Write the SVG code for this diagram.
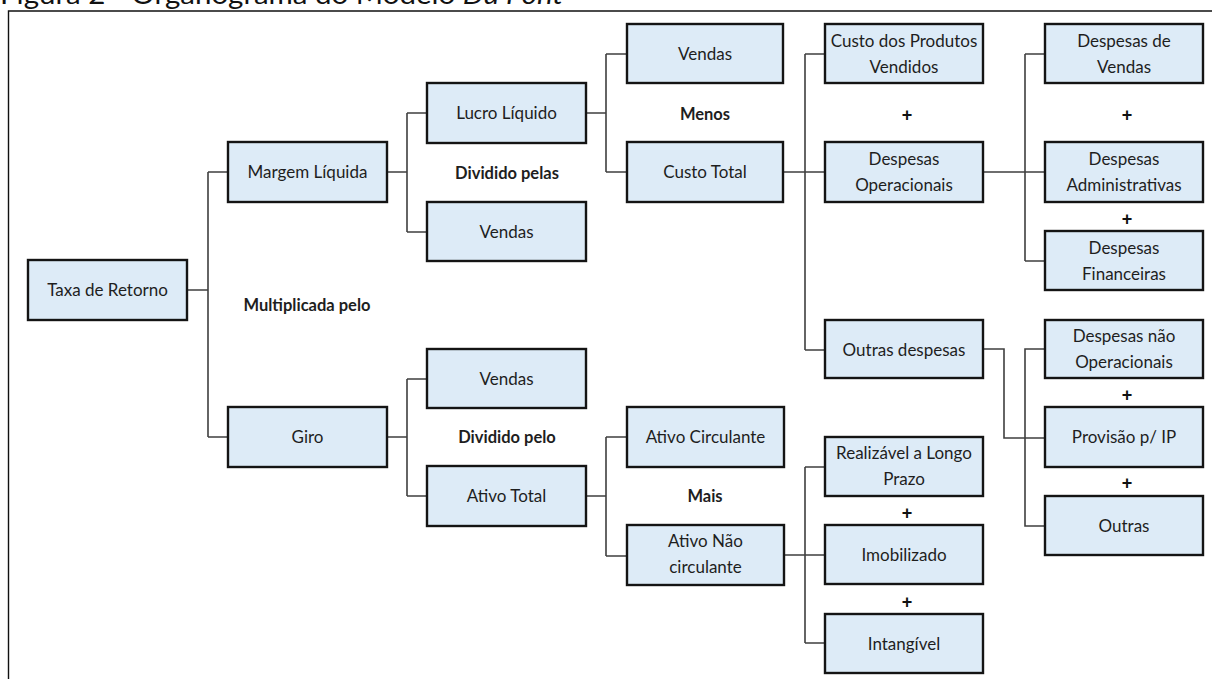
<svg xmlns="http://www.w3.org/2000/svg" width="1212" height="679" viewBox="0 0 1212 679">
<style>
.box{fill:#DDEBF7;stroke:#141414;stroke-width:2.4}
.t{font-family:Lato,"Open Sans","Liberation Sans",sans-serif;font-size:17px;fill:#1e1e1e;text-anchor:middle}
.b{font-family:Lato,"Open Sans","Liberation Sans",sans-serif;font-size:16.5px;font-weight:bold;fill:#1e1e1e;text-anchor:middle}
.p{font-family:"Liberation Sans",sans-serif;font-size:18px;font-weight:bold;fill:#111;text-anchor:middle}
.c{fill:none;stroke:#3f3f3f;stroke-width:1.6}
</style>
<rect width="1212" height="679" fill="#fff"/>
<text x="0" y="4" font-family="Lato,'Open Sans','Liberation Sans',sans-serif" font-size="26" fill="#111" textLength="563" lengthAdjust="spacingAndGlyphs">Figura 2 - Organograma do Modelo <tspan font-style="italic">Du Pont</tspan></text>
<path d="M8.5,690 V11 H1230" fill="none" stroke="#111" stroke-width="1.4"/>
<g id="connectors">
<path class="c" d="M187,290 H208 M208,172 V437 M208,172 H228 M208,437 H228"/>
<path class="c" d="M387,172 H407 M407,113 V232 M407,113 H427 M407,232 H427"/>
<path class="c" d="M586,113 H606 M606,54 V172 M606,54 H627 M606,172 H627"/>
<path class="c" d="M783,172 H825 M805,54 V350 M805,54 H825 M805,350 H825"/>
<path class="c" d="M983,172 H1045 M1025,54 V261 M1025,54 H1045 M1025,261 H1045"/>
<path class="c" d="M983,349 H1004 V438 H1045 M1045,349 H1025 V526 H1045"/>
<path class="c" d="M387,437 H407 M407,379 V496 M407,379 H427 M407,496 H427"/>
<path class="c" d="M586,496 H606 M606,437 V556 M606,437 H627 M606,556 H627"/>
<path class="c" d="M784,555 H825 M805,467 V643 M805,467 H825 M805,643 H825"/>
</g>
<g id="taxa"><rect class="box" x="28" y="260" width="159" height="60"/><text class="t" x="107.5" y="296">Taxa de Retorno</text></g>
<g id="margem"><rect class="box" x="228" y="142" width="159" height="60"/><text class="t" x="307.5" y="178">Margem Líquida</text></g>
<g id="giro"><rect class="box" x="228" y="407" width="159" height="60"/><text class="t" x="307.5" y="443">Giro</text></g>
<g id="lucro"><rect class="box" x="427" y="83" width="159" height="60"/><text class="t" x="506.5" y="119">Lucro Líquido</text></g>
<g id="vendas1"><rect class="box" x="427" y="202" width="159" height="59"/><text class="t" x="506.5" y="238">Vendas</text></g>
<g id="vendas2"><rect class="box" x="427" y="349" width="159" height="59"/><text class="t" x="506.5" y="385">Vendas</text></g>
<g id="ativototal"><rect class="box" x="427" y="466" width="159" height="60"/><text class="t" x="506.5" y="502">Ativo Total</text></g>
<g id="vendas3"><rect class="box" x="627" y="24" width="156" height="59"/><text class="t" x="705" y="60">Vendas</text></g>
<g id="custototal"><rect class="box" x="627" y="142" width="156" height="60"/><text class="t" x="705" y="178">Custo Total</text></g>
<g id="ativocirc"><rect class="box" x="627" y="407" width="157" height="60"/><text class="t" x="705.5" y="443">Ativo Circulante</text></g>
<g id="ativonc"><rect class="box" x="627" y="525" width="157" height="60"/><text class="t" x="705.5" y="547">Ativo Não</text><text class="t" x="705.5" y="573">circulante</text></g>
<g id="cpv"><rect class="box" x="825" y="24" width="158" height="59"/><text class="t" x="904" y="47">Custo dos Produtos</text><text class="t" x="904" y="73">Vendidos</text></g>
<g id="despop"><rect class="box" x="825" y="142" width="158" height="60"/><text class="t" x="904" y="165">Despesas</text><text class="t" x="904" y="191">Operacionais</text></g>
<g id="outrasdesp"><rect class="box" x="825" y="320" width="158" height="58"/><text class="t" x="904" y="356">Outras despesas</text></g>
<g id="realizavel"><rect class="box" x="825" y="437" width="158" height="59"/><text class="t" x="904" y="459">Realizável a Longo</text><text class="t" x="904" y="485">Prazo</text></g>
<g id="imobilizado"><rect class="box" x="825" y="525" width="158" height="59"/><text class="t" x="904" y="561">Imobilizado</text></g>
<g id="intangivel"><rect class="box" x="825" y="614" width="158" height="59"/><text class="t" x="904" y="650">Intangível</text></g>
<g id="despvendas"><rect class="box" x="1045" y="24" width="158" height="59"/><text class="t" x="1124" y="47">Despesas de</text><text class="t" x="1124" y="73">Vendas</text></g>
<g id="despadm"><rect class="box" x="1045" y="142" width="158" height="60"/><text class="t" x="1124" y="165">Despesas</text><text class="t" x="1124" y="191">Administrativas</text></g>
<g id="despfin"><rect class="box" x="1045" y="231" width="158" height="59"/><text class="t" x="1124" y="254">Despesas</text><text class="t" x="1124" y="280">Financeiras</text></g>
<g id="despnaoop"><rect class="box" x="1045" y="320" width="158" height="58"/><text class="t" x="1124" y="342">Despesas não</text><text class="t" x="1124" y="368">Operacionais</text></g>
<g id="provisao"><rect class="box" x="1045" y="407" width="158" height="60"/><text class="t" x="1124" y="443">Provisão p/ IP</text></g>
<g id="outras"><rect class="box" x="1045" y="496" width="158" height="59"/><text class="t" x="1124" y="532">Outras</text></g>
<g id="labels">
<text class="b" x="307" y="311">Multiplicada pelo</text>
<text class="b" x="507" y="179">Dividido pelas</text>
<text class="b" x="705" y="120">Menos</text>
<text class="b" x="507" y="443">Dividido pelo</text>
<text class="b" x="705" y="502">Mais</text>
<text class="p" x="907" y="121">+</text>
<text class="p" x="1127" y="121">+</text>
<text class="p" x="1127" y="225">+</text>
<text class="p" x="1127" y="401">+</text>
<text class="p" x="1127" y="489">+</text>
<text class="p" x="907" y="519">+</text>
<text class="p" x="907" y="608">+</text>
</g>
</svg>
